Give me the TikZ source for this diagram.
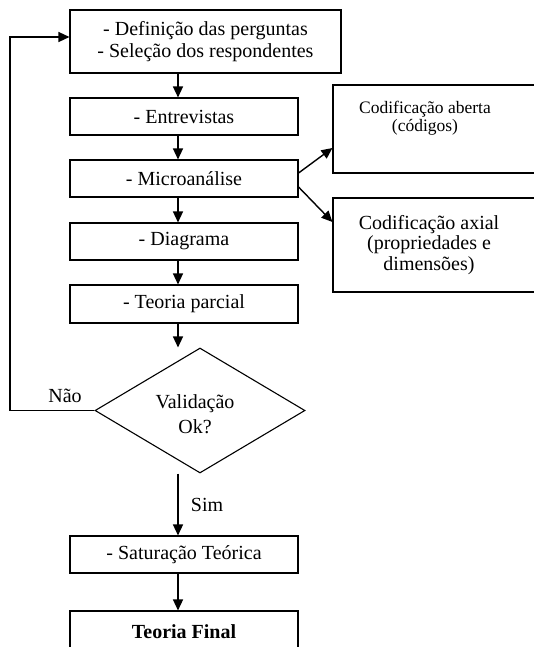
\documentclass[tikz,border=0pt]{standalone}
\usepackage{fontspec}
\setmainfont{Liberation Serif}
\usetikzlibrary{shapes.geometric,arrows.meta}
\tikzset{
  box/.style={draw, line width=1.1pt, inner sep=0pt, align=center, minimum width=228pt, minimum height=37pt, font=\fontsize{20}{22}\selectfont},
  sidebox/.style={draw, line width=1.1pt, inner sep=0pt, align=center, minimum width=212pt},
  arr/.style={line width=1.4pt, -{Triangle[length=11pt,width=10pt]}},
  plain/.style={line width=1.1pt},
  lbl/.style={inner sep=0pt, font=\fontsize{20}{22}\selectfont},
}
\begin{document}
\begin{tikzpicture}[x=1pt,y=-1pt]
\useasboundingbox (0,0) rectangle (534,647);
\clip (0,0) rectangle (534,647);
\fill[white] (0,0) rectangle (534,647);
\coordinate (ax) at (178,0);
\coordinate (lx) at (10,0);
\node[box, minimum width=271pt, minimum height=63pt] (b1) at (205.5,41.5) {- Definição das perguntas\\- Seleção dos respondentes};
\node[box] (b2) at (184,116.5) {- Entrevistas};
\node[box] (b3) at (184,178.5) {- Microanálise};
\node[box] (b4) at (184,241.5) {- Diagrama};
\node[box, minimum height=38pt] (b5) at (184,304) {- Teoria parcial};
\node[draw, plain, diamond, inner sep=0pt, minimum width=210pt, minimum height=125pt, align=center, font=\fontsize{20}{24}\selectfont] (dia) at (200,410.5) {};
\node[lbl, align=center, font=\fontsize{20}{25}\selectfont] (diat) at (195,414) {Validação\\Ok?};
\node[box] (b6) at (184,554.5) {- Saturação Teórica};
\node[box, minimum height=42pt, font=\fontsize{20}{22}\selectfont\bfseries] (b7) at (184,632) {Teoria Final};
\node[sidebox, minimum height=88pt] (ab) at (439,129) {};
\node[lbl, align=center, font=\fontsize{17.5}{17.5}\selectfont] (abt) at (425,118) {Codificação aberta\\(códigos)};
\node[sidebox, minimum height=94pt, font=\fontsize{20}{20.5}\selectfont] (ax2) at (439,245) {\hspace*{-20pt}Codificação axial\\\hspace*{-20pt}(propriedades e\\\hspace*{-20pt}dimensões)};
\node[lbl] (nao) at (65,396) {Não};
\node[lbl] (sim) at (207,505) {Sim};
\draw[arr] (b1.south -| ax) -- (b2.north -| ax);
\draw[arr] (b2.south -| ax) -- (b3.north -| ax);
\draw[arr] (b3.south -| ax) -- (b4.north -| ax);
\draw[arr] (b4.south -| ax) -- (b5.north -| ax);
\draw[arr] (b5.south -| ax) -- (dia.north -| ax);
\draw[arr] (dia.south -| ax) -- (b6.north -| ax);
\draw[arr] (b6.south -| ax) -- (b7.north -| ax);
\draw[arr] ([yshift=5.5pt]b3.east) -- ([yshift=-19pt]ab.west);
\draw[arr] ([yshift=-8.5pt]b3.east) -- ([yshift=23pt]ax2.west);
\draw[arr] (dia.west) -- (dia.west -| lx) |- ([yshift=4.5pt]b1.west);
\end{tikzpicture}
\end{document}
